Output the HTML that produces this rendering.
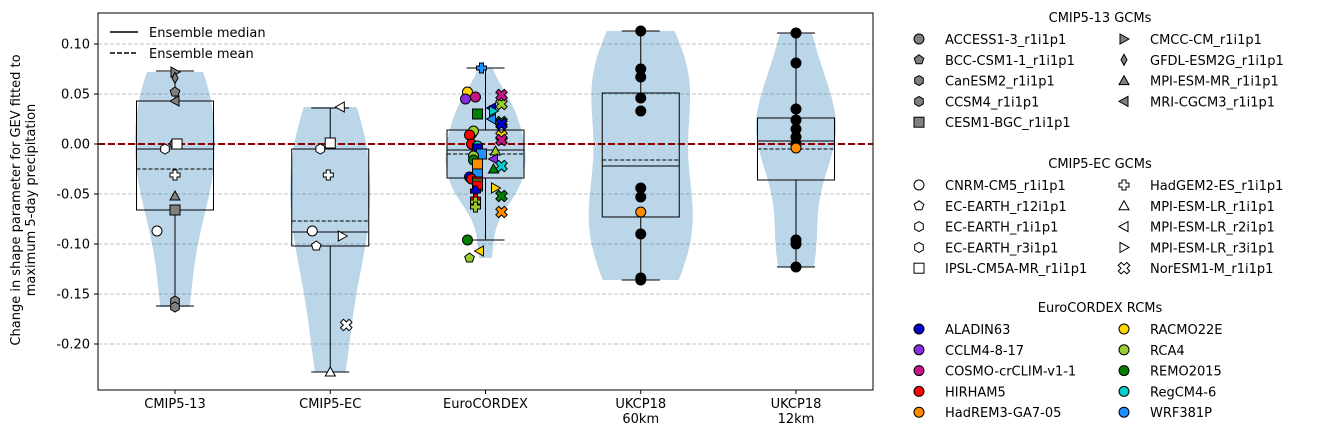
<!DOCTYPE html>
<html><head><meta charset="utf-8"><style>
body{margin:0;background:#fff;font-family:"Liberation Sans","DejaVu Sans",sans-serif;}
svg text{font-family:"DejaVu Sans","Liberation Sans",sans-serif;}
</style></head><body>
<svg id="c" width="1321" height="440" xmlns="http://www.w3.org/2000/svg"></svg>
<script>
const categories=["CMIP5-13","CMIP5-EC","EuroCORDEX","UKCP18\n60km","UKCP18\n12km"];
const yTicks=[0.10,0.05,0.00,-0.05,-0.10,-0.15,-0.20];
const boxQ3=[0.043,-0.005,0.014,0.051,0.026];
const boxQ1=[-0.066,-0.102,-0.034,-0.073,-0.036];
const medians=[-0.005,-0.088,-0.006,-0.022,0.003];
const means=[-0.025,-0.077,-0.010,-0.016,-0.005];
const whiskHi=[0.073,0.036,0.076,0.113,0.111];
const whiskLo=[-0.162,-0.228,-0.096,-0.136,-0.123];
const ptGroup=[0,0,0,0,0,0,0,0,0,0,0,0,0, 1,1,1,1,1,1,1,1,1,
 3,3,3,3,3,3,3,3,3,3,3, 4,4,4,4,4,4,4,4,4,4,4];
const ptValue=[0.072,0.066,0.052,0.043,0.000,0.000,-0.005,-0.031,-0.052,-0.066,-0.087,-0.157,-0.163,
 0.037,0.001,-0.005,-0.031,-0.087,-0.092,-0.102,-0.181,-0.228,
 0.113,0.075,0.067,0.046,0.033,-0.044,-0.053,-0.068,-0.090,-0.134,-0.136,
 0.111,0.081,0.035,0.024,0.015,0.007,0.000,-0.004,-0.096,-0.100,-0.123];
const ptShape=["tr","d","p","tl","o","s","h","+","t","s","o","h","h",
 "tl","s","h","+","o","tr","p","x","t",
 "o","o","o","o","o","o","o","o","o","o","o","o","o","o","o","o","o","o","o","o","o","o"];
const ptFill=["#808080","#808080","#808080","#808080","#808080","#fff","#fff","#fff","#808080","#808080","#fff","#808080","#808080",
 "#fff","#fff","#fff","#fff","#fff","#fff","#fff","#fff","#fff",
 "#000","#000","#000","#000","#000","#000","#000","#ff8c00","#000","#000","#000",
 "#000","#000","#000","#000","#000","#000","#000","#ff8c00","#000","#000","#000"];
const ptJitter=[0,0,0,0,0,2,-10,0,0,0,-18,0,0, 10,0,-10,-2,-18,12,-14,16,0, 0,0,0,0,0,0,0,0,0,0,0, 0,0,0,0,0,0,0,0,0,0,0];
const rcmColors=["#0000cd","#8a2be2","#c71585","#ff0000","#ff8c00","#ffd700","#9acd32","#008000","#00ced1","#1e90ff"];
const ecValue=[0.076,0.052,0.047,0.045,0.040,0.049,0.036,0.033,0.030,0.022,0.025,0.020,0.010,0.013,0.009,0.008,0.004,0.000,-0.002,-0.005,-0.007,-0.010,-0.012,-0.015,-0.016,-0.020,-0.022,-0.025,-0.030,-0.033,-0.035,-0.038,-0.040,-0.042,-0.044,-0.047,-0.052,-0.055,-0.058,-0.063,-0.068,-0.096,-0.107,-0.114];
const ecColor=[9,5,2,1,6,2,0,8,7,7,9,0,8,6,3,5,2,3,8,0,6,9,6,1,7,4,8,7,9,0,3,3,6,3,5,0,7,3,6,6,4,7,5,6];
const ecShape=["+","o","o","o","x","x","tl","tr","s","x","tl","x","o","o","o","x","x","o","o","s","t","s","o","tl","o","s","x","t","s","o","o","s","s","s","tr","+","x","+","+","+","x","o","tl","p"];
const ecJitter=[-4,-18,-10,-20,16,16,6,8,-8,16,6,16,-14,-12,-16,16,16,-14,-8,-8,10,-4,-12,8,-12,-8,16,8,-8,-16,-14,-8,-8,-8,10,-10,16,-10,-10,-10,16,-18,-6,-16];
const legTitles=["CMIP5-13 GCMs","CMIP5-EC GCMs","EuroCORDEX RCMs"];
const leg1Names=["ACCESS1-3_r1i1p1","BCC-CSM1-1_r1i1p1","CanESM2_r1i1p1","CCSM4_r1i1p1","CESM1-BGC_r1i1p1","CMCC-CM_r1i1p1","GFDL-ESM2G_r1i1p1","MPI-ESM-MR_r1i1p1","MRI-CGCM3_r1i1p1"];
const leg1Shapes=["o","p","h","h","s","tr","d","t","tl"];
const leg2Names=["CNRM-CM5_r1i1p1","EC-EARTH_r12i1p1","EC-EARTH_r1i1p1","EC-EARTH_r3i1p1","IPSL-CM5A-MR_r1i1p1","HadGEM2-ES_r1i1p1","MPI-ESM-LR_r1i1p1","MPI-ESM-LR_r2i1p1","MPI-ESM-LR_r3i1p1","NorESM1-M_r1i1p1"];
const leg2Shapes=["o","p","h","h","s","+","t","tl","tr","x"];
const leg3Names=["ALADIN63","CCLM4-8-17","COSMO-crCLIM-v1-1","HIRHAM5","HadREM3-GA7-05","RACMO22E","RCA4","REMO2015","RegCM4-6","WRF381P"];

const NS="http://www.w3.org/2000/svg";
const svg=document.getElementById('c');
const L=98,R=873,T=13,B=390;
const y=v=>144-1000*v;
const x=i=>175+i*155.25;
function el(tag,attrs,parent){const e=document.createElementNS(NS,tag);for(const k in attrs)e.setAttribute(k,attrs[k]);(parent||svg).appendChild(e);return e;}
function txt(s,a,p){const e=el('text',a,p);e.textContent=s;return e;}
function marker(shape,cx,cy,fill,r){
  r=r||5;let e;const sw=1;
  const poly=(pts)=>el('polygon',{points:pts.map(p=>(cx+p[0]).toFixed(1)+','+(cy+p[1]).toFixed(1)).join(' '),fill:fill,stroke:'#000','stroke-width':sw});
  const ngon=(n,rot)=>{const p=[];for(let k=0;k<n;k++){const a=rot+k*2*Math.PI/n;p.push([r*Math.cos(a),r*Math.sin(a)]);}return poly(p);};
  if(shape==='o')e=el('circle',{cx:cx,cy:cy,r:r,fill:fill,stroke:'#000','stroke-width':sw});
  else if(shape==='s')e=el('rect',{x:cx-r,y:cy-r,width:2*r,height:2*r,fill:fill,stroke:'#000','stroke-width':sw});
  else if(shape==='p')e=ngon(5,-Math.PI/2);
  else if(shape==='h')e=ngon(6,-Math.PI/2);
  else if(shape==='t')e=poly([[0,-r],[r,r*0.8],[-r,r*0.8]]);
  else if(shape==='tl')e=poly([[-r,0],[r*0.8,-r],[r*0.8,r]]);
  else if(shape==='tr')e=poly([[r,0],[-r*0.8,-r],[-r*0.8,r]]);
  else if(shape==='d')e=poly([[0,-r*1.1],[r*0.6,0],[0,r*1.1],[-r*0.6,0]]);
  else if(shape==='+'){const a=r*0.4;e=poly([[-a,-r],[a,-r],[a,-a],[r,-a],[r,a],[a,a],[a,r],[-a,r],[-a,a],[-r,a],[-r,-a],[-a,-a]]);}
  else if(shape==='x'){const a=r*0.35,b=r;const pts=[[0,-2*a],[b-a,-b-a],[b+a,-b+a],[2*a,0],[b+a,b-a],[b-a,b+a],[0,2*a],[-b+a,b+a],[-b-a,b-a],[-2*a,0],[-b-a,-b+a],[-b+a,-b-a]];e=poly(pts.map(p=>[p[0]*0.85,p[1]*0.85]));}
  return e;
}
el('rect',{x:L,y:T,width:R-L,height:B-T,fill:'#fff'});
yTicks.forEach(v=>{
  const g=el('line',{x1:L,x2:R,y1:y(v),y2:y(v),stroke:'#b0b0b0','stroke-dasharray':'4,2','stroke-width':0.8});
  
  const t=txt(v.toFixed(2),{x:L-8,y:y(v)+4.5,'text-anchor':'end','font-size':13,fill:'#000'});
  
  el('line',{x1:L-4,x2:L,y1:y(v),y2:y(v),stroke:'#000'});
});
const groupVals=categories.map(()=>[]);
ptValue.forEach((v,k)=>groupVals[ptGroup[k]].push(v));
ecValue.forEach(v=>groupVals[2].push(v));
groupVals.forEach((vals,i)=>{
  const n=vals.length,mean=vals.reduce((a,b)=>a+b,0)/n;
  const sd=Math.sqrt(vals.reduce((a,b)=>a+(b-mean)**2,0)/(n-1));
  const bw=sd*Math.pow(n,-0.2);
  const lo=Math.min(...vals),hi=Math.max(...vals);
  const ys=[],ds=[];
  for(let k=0;k<=60;k++){const v=lo+(hi-lo)*k/60;let d=0;vals.forEach(u=>d+=Math.exp(-0.5*((v-u)/bw)**2));ys.push(v);ds.push(d);}
  const mx=Math.max(...ds);
  const W=i===3?52:40;
  const right=ys.map((v,k)=>[x(i)+ds[k]/mx*W,y(v)]);
  const left=ys.map((v,k)=>[x(i)-ds[k]/mx*W,y(v)]).reverse();
  const p=el('polygon',{points:right.concat(left).map(q=>q[0].toFixed(1)+','+q[1].toFixed(1)).join(' '),fill:'#1f77b4','fill-opacity':0.3});
  
});
const z=el('line',{x1:L,x2:R,y1:y(0),y2:y(0),stroke:'#8b0000','stroke-width':2,'stroke-dasharray':'7,3'});

categories.forEach((c,i)=>{
  const cx=x(i),w=38.5;
  el('line',{x1:cx,x2:cx,y1:y(boxQ3[i]),y2:y(whiskHi[i]),stroke:'#000'});
  el('line',{x1:cx,x2:cx,y1:y(boxQ1[i]),y2:y(whiskLo[i]),stroke:'#000'});
  el('line',{x1:cx-19,x2:cx+19,y1:y(whiskHi[i]),y2:y(whiskHi[i]),stroke:'#000'});
  el('line',{x1:cx-19,x2:cx+19,y1:y(whiskLo[i]),y2:y(whiskLo[i]),stroke:'#000'});
  const b=el('rect',{x:cx-w,y:y(boxQ3[i]),width:2*w,height:y(boxQ1[i])-y(boxQ3[i]),fill:'none',stroke:'#000'});
  
  el('line',{x1:cx-w,x2:cx+w,y1:y(medians[i]),y2:y(medians[i]),stroke:'#000'});
  el('line',{x1:cx-w,x2:cx+w,y1:y(means[i]),y2:y(means[i]),stroke:'#000','stroke-dasharray':'4,2'});
  c.split('\n').forEach((s,k)=>{const t=txt(s,{x:cx,y:408+k*15,'text-anchor':'middle','font-size':13});
    });
  el('line',{x1:cx,x2:cx,y1:B,y2:B+4,stroke:'#000'});
});
ptValue.forEach((v,k)=>{const m=marker(ptShape[k],x(ptGroup[k])+ptJitter[k],y(v),ptFill[k],5);
  });
ecValue.forEach((v,k)=>{const m=marker(ecShape[k],x(2)+ecJitter[k],y(v),rcmColors[ecColor[k]],5);
  });
el('rect',{x:L,y:T,width:R-L,height:B-T,fill:'none',stroke:'#000'});
const yl=el('text',{transform:'translate(20,200) rotate(-90)','text-anchor':'middle','font-size':13});

el('tspan',{x:0,y:0},yl).textContent='Change in shape parameter for GEV fitted to';
el('tspan',{x:0,y:15},yl).textContent='maximum 5-day precipitation';
el('line',{x1:110,x2:138,y1:32,y2:32,stroke:'#000','stroke-width':1.5});
txt('Ensemble median',{x:149,y:37,'font-size':13});
el('line',{x1:110,x2:138,y1:53,y2:53,stroke:'#000','stroke-width':1.5,'stroke-dasharray':'5,2'});
txt('Ensemble mean',{x:149,y:58,'font-size':13});
function legend(title,ty,names,shapes,fills){
  const tt=txt(title,{x:1100,y:ty+5,'text-anchor':'middle','font-size':13});
  
  const half=Math.ceil(names.length/2);
  names.forEach((n,k)=>{const col=k<half?0:1,row=k<half?k:k-half;
    const mx=col?1124:919,yy=ty+22+row*20.8;
    marker(shapes[k],mx,yy,fills[k],5);
    const t=txt(n,{x:mx+26,y:yy+5,'font-size':13});
    });
}
legend(legTitles[0],17,leg1Names,leg1Shapes,leg1Names.map(()=>'#808080'));
legend(legTitles[1],163,leg2Names,leg2Shapes,leg2Names.map(()=>'#fff'));
legend(legTitles[2],307,leg3Names,leg3Names.map(()=>'o'),rcmColors);
</script>
</body></html>
